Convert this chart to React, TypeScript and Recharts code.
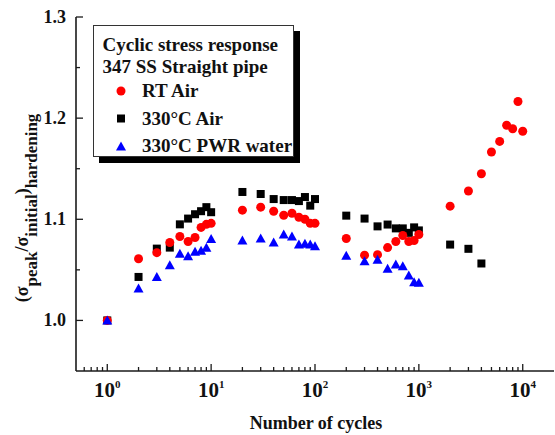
import React from 'react';
import { ScatterChart, Scatter, XAxis, YAxis, Legend } from 'recharts';

const FONT = '"Liberation Serif", "Times New Roman", serif';

const legendTitle = ['Cyclic stress response', '347 SS Straight pipe'];
const seriesNames = ['RT Air', '330°C Air', '330°C PWR water'];
const seriesColors = ['#ff0000', '#000000', '#0000ff'];

const rtCycles = [1, 2, 3, 4, 5, 6, 7, 8, 9, 10, 20, 30, 40, 50, 60, 70, 80, 90, 100, 200, 300, 400, 500, 600, 700, 800, 900, 1000, 2000, 3000, 4000, 5000, 6000, 7000, 8000, 9000, 10000];
const rtValues = [1.0, 1.061, 1.067, 1.077, 1.083, 1.078, 1.082, 1.092, 1.095, 1.096, 1.109, 1.112, 1.108, 1.104, 1.106, 1.102, 1.1, 1.096, 1.096, 1.081, 1.0645, 1.065, 1.072, 1.078, 1.084, 1.078, 1.079, 1.085, 1.113, 1.128, 1.145, 1.1665, 1.177, 1.193, 1.1895, 1.2165, 1.187];

const airCycles = [1, 2, 3, 4, 5, 6, 7, 8, 9, 10, 20, 30, 40, 50, 60, 70, 80, 90, 100, 200, 300, 400, 500, 600, 700, 800, 900, 1000, 2000, 3000, 4000];
const airValues = [1.0, 1.043, 1.071, 1.072, 1.095, 1.1007, 1.105, 1.108, 1.112, 1.107, 1.127, 1.125, 1.12, 1.119, 1.119, 1.118, 1.122, 1.1135, 1.12, 1.1036, 1.1007, 1.093, 1.0948, 1.091, 1.091, 1.0866, 1.092, 1.089, 1.075, 1.0708, 1.0563];

const pwrCycles = [1, 2, 3, 4, 5, 6, 7, 8, 9, 10, 20, 30, 40, 50, 60, 70, 80, 90, 100, 200, 300, 400, 500, 600, 700, 800, 900, 1000];
const pwrValues = [1.0, 1.0316, 1.043, 1.0546, 1.066, 1.0635, 1.068, 1.069, 1.0718, 1.0806, 1.079, 1.081, 1.077, 1.085, 1.083, 1.075, 1.0757, 1.075, 1.0734, 1.064, 1.0585, 1.06, 1.051, 1.0553, 1.0536, 1.0444, 1.0378, 1.0372];

const xDomain = [0.5, 20000];
const yDomain = [0.95, 1.3];
const xMajorTicks = [1, 10, 100, 1000, 10000];
const xMinorTicks = [0.6, 0.7, 0.8, 0.9, 2, 3, 4, 5, 6, 7, 8, 9, 20, 30, 40, 50, 60, 70, 80, 90, 200, 300, 400, 500, 600, 700, 800, 900, 2000, 3000, 4000, 5000, 6000, 7000, 8000, 9000];
const yMajorTicks = [1.0, 1.1, 1.2, 1.3];
const yMinorTicks = [1.05, 1.15, 1.25];

const xLabel = 'Number of cycles';

const zip = (xs: number[], ys: number[]) => xs.map((x, i) => ({ x, y: ys[i] }));
const rtData = zip(rtCycles, rtValues);
const airData = zip(airCycles, airValues);
const pwrData = zip(pwrCycles, pwrValues);

const xAllTicks = [...xMinorTicks, ...xMajorTicks].sort((a, b) => a - b);
const yAllTicks = [...yMajorTicks, ...yMinorTicks].sort((a, b) => a - b);

const AXIS = '#1a1a1a';

const BottomTick = (props: any) => {
  const { x, y, payload } = props;
  const v = payload.value;
  const major = xMajorTicks.includes(v);
  return (
    <g>
      <line x1={x} x2={x} y1={y} y2={y - (major ? 7 : 4)} stroke={AXIS} strokeWidth={1.3} />
      {major && (
        <text x={x} y={y + 26} textAnchor="middle" fontFamily={FONT} fontWeight="bold" fontSize={21} fill="#111">
          10
          <tspan dy={-9} fontSize={11}>{Math.round(Math.log10(v))}</tspan>
        </text>
      )}
    </g>
  );
};

const TopTick = (props: any) => {
  const { x, y, payload } = props;
  const major = xMajorTicks.includes(payload.value);
  return <line x1={x} x2={x} y1={y} y2={y + (major ? 7 : 4)} stroke={AXIS} strokeWidth={1.3} />;
};

const LeftTick = (props: any) => {
  const { x, y, payload } = props;
  const v = payload.value;
  const major = yMajorTicks.includes(v);
  return (
    <g>
      <line x1={x} x2={x + (major ? 7 : 4)} y1={y} y2={y} stroke={AXIS} strokeWidth={1.3} />
      {major && (
        <text x={x - 10} y={y + 6} textAnchor="end" fontFamily={FONT} fontWeight="bold" fontSize={18} fill="#111">
          {v.toFixed(1)}
        </text>
      )}
    </g>
  );
};

const RightTick = (props: any) => {
  const { x, y, payload } = props;
  const major = yMajorTicks.includes(payload.value);
  return <line x1={x} x2={x - (major ? 7 : 4)} y1={y} y2={y} stroke={AXIS} strokeWidth={1.3} />;
};

const YTitle = (props: any) => {
  const vb = props.viewBox || { x: 0, y: 17, width: 76, height: 354 };
  const cx = vb.x + 28;
  const cy = vb.y + vb.height / 2 + 14;
  return (
    <text
      x={cx}
      y={cy}
      transform={`rotate(-90, ${cx}, ${cy})`}
      textAnchor="middle"
      fontFamily={FONT}
      fontWeight="bold"
      fontSize={18}
      fill="#111"
    >
      (σ<tspan dy={9} fontSize={17}>peak</tspan>
      <tspan dy={-9}>/σ</tspan>
      <tspan dy={9} fontSize={17}>initial</tspan>
      <tspan dy={-9}>)</tspan>
      <tspan dy={9} fontSize={17}>hardening</tspan>
    </text>
  );
};

const XTitle = (props: any) => {
  const vb = props.viewBox || { x: 76, y: 371, width: 478, height: 64 };
  return (
    <text x={vb.x + vb.width / 2 + 1} y={vb.y + 58} textAnchor="middle" fontFamily={FONT} fontWeight="bold" fontSize={18} fill="#111">
      {xLabel}
    </text>
  );
};

const CircleShape = (p: any) => <circle cx={p.cx} cy={p.cy} r={4.5} fill={seriesColors[0]} />;
const SquareShape = (p: any) => <rect x={p.cx - 4} y={p.cy - 4} width={8} height={8} fill={seriesColors[1]} />;
const TriangleShape = (p: any) => (
  <polygon points={`${p.cx},${p.cy - 5} ${p.cx + 5},${p.cy + 4} ${p.cx - 5},${p.cy + 4}`} fill={seriesColors[2]} />
);

const LegendBox = () => {
  const markerX = 28;
  const textX = 49;
  const rows = [72, 100, 127];
  const markerY = [66, 93.5, 121.5];
  return (
    <div
      style={{
        position: 'relative',
        width: 201,
        height: 132,
        border: '1px solid #333',
        boxSizing: 'border-box',
        background: '#fff',
        boxShadow: '6px 6px 0 #000',
      }}
    >
      <svg width={201} height={132} style={{ position: 'absolute', left: -1, top: -1, overflow: 'visible' }}>
        <g fontFamily={FONT} fontWeight="bold" fontSize={19} fill="#111">
          <text x={9.5} y={26}>{legendTitle[0]}</text>
          <text x={9.5} y={48}>{legendTitle[1]}</text>
          {seriesNames.map((n, i) => (
            <text key={n} x={textX} y={rows[i]}>{n}</text>
          ))}
        </g>
        <circle cx={markerX} cy={markerY[0]} r={4.5} fill={seriesColors[0]} />
        <rect x={markerX - 4} y={markerY[1] - 4} width={8} height={8} fill={seriesColors[1]} />
        <polygon
          points={`${markerX},${markerY[2] - 5} ${markerX + 5},${markerY[2] + 4} ${markerX - 5},${markerY[2] + 4}`}
          fill={seriesColors[2]}
        />
      </svg>
    </div>
  );
};

export default function App() {
  return (
    <div style={{ position: 'absolute', left: 0, top: 0, background: '#fff' }}>
      <ScatterChart width={555} height={435} margin={{ top: 17, right: 1, bottom: 0, left: 0 }}>
        <XAxis
          xAxisId="bottom"
          dataKey="x"
          type="number"
          scale="log"
          domain={xDomain}
          allowDataOverflow
          ticks={xAllTicks}
          interval={0}
          tick={<BottomTick />}
          tickLine={false}
          tickSize={0}
          tickMargin={0}
          height={64}
          orientation="bottom"
          axisLine={{ stroke: AXIS, strokeWidth: 1.6 }}
          label={<XTitle />}
        />
        <XAxis
          xAxisId="top"
          dataKey="x"
          type="number"
          scale="log"
          domain={xDomain}
          allowDataOverflow
          ticks={xAllTicks}
          interval={0}
          tick={<TopTick />}
          tickLine={false}
          tickSize={0}
          tickMargin={0}
          height={0}
          orientation="top"
          axisLine={{ stroke: AXIS, strokeWidth: 1.6 }}
        />
        <YAxis
          yAxisId="left"
          dataKey="y"
          type="number"
          domain={yDomain}
          allowDataOverflow
          ticks={yAllTicks}
          interval={0}
          tick={<LeftTick />}
          tickLine={false}
          tickSize={0}
          tickMargin={0}
          width={76}
          orientation="left"
          axisLine={{ stroke: AXIS, strokeWidth: 1.6 }}
          label={<YTitle />}
        />
        <YAxis
          yAxisId="right"
          dataKey="y"
          type="number"
          domain={yDomain}
          allowDataOverflow
          ticks={yAllTicks}
          interval={0}
          tick={<RightTick />}
          tickLine={false}
          tickSize={0}
          tickMargin={0}
          width={0}
          orientation="right"
          axisLine={{ stroke: AXIS, strokeWidth: 1.6 }}
        />
        <Legend
          layout="vertical"
          align="center"
          verticalAlign="middle"
          content={<LegendBox />}
          wrapperStyle={{ left: 93, top: 25, width: 201, height: 132 }}
        />
        <Scatter name={seriesNames[1]} data={airData} xAxisId="bottom" yAxisId="left" shape={SquareShape} isAnimationActive={false} />
        <Scatter name={seriesNames[0]} data={rtData} xAxisId="bottom" yAxisId="left" shape={CircleShape} isAnimationActive={false} />
        <Scatter name={seriesNames[2]} data={pwrData} xAxisId="bottom" yAxisId="left" shape={TriangleShape} isAnimationActive={false} />
      </ScatterChart>
    </div>
  );
}
